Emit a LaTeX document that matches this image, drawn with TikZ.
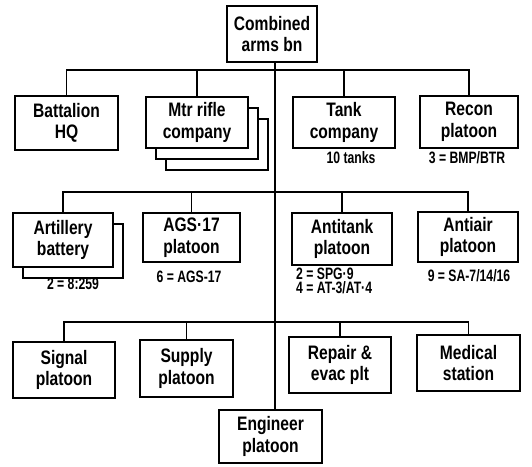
\documentclass[tikz,border=0pt]{standalone}
\usepackage{fontspec}
\newfontfamily\bx{Liberation Sans}[FakeStretch=0.8]
\newfontfamily\nx{Liberation Sans}[FakeStretch=0.74]
\usetikzlibrary{shadows}
\begin{document}
\begin{tikzpicture}[x=1pt,y=-1pt,
  unit/.style={draw, line width=1.8pt, fill=white, align=center, inner sep=0pt,
    font=\bx\bfseries\fontsize{19.5}{21.5}\selectfont},
  stack2/.style={double copy shadow={shadow xshift=10pt, shadow yshift=-11pt,
    fill=white, draw=black, line width=1.8pt}},
  stack1/.style={copy shadow={shadow xshift=10pt, shadow yshift=-11pt,
    fill=white, draw=black, line width=1.8pt}},
  note/.style={inner sep=0pt, align=left, font=\nx\bfseries\fontsize{16.5}{13.5}\selectfont},
  link/.style={line width=1.8pt}]
\useasboundingbox (0,0) rectangle (532,466);
% top
\node[unit, minimum width=90pt, minimum height=56pt] (cab) at (272,34) {Combined\\arms bn};
% row 1
\node[unit, minimum width=103pt, minimum height=54pt] (hq) at (66.5,123) {Battalion\\HQ};
\node[unit, stack2, minimum width=102pt, minimum height=51pt] (mrc) at (197,122.5) {Mtr rifle\\company};
\node[unit, minimum width=102pt, minimum height=51pt] (tank) at (344,122.5) {Tank\\company};
\node[unit, minimum width=98pt, minimum height=52pt] (recon) at (469,122) {Recon\\platoon};
% row 2
\node[unit, stack1, minimum width=100pt, minimum height=54pt] (art) at (63,240) {Artillery\\battery};
\node[unit, minimum width=97pt, minimum height=49pt] (ags) at (191.5,237.5) {AGS·17\\platoon};
\node[unit, minimum width=100pt, minimum height=52pt] (at) at (342,239) {Antitank\\platoon};
\node[unit, minimum width=100pt, minimum height=50pt] (aa) at (468,237) {Antiair\\platoon};
% row 3
\node[unit, minimum width=102pt, minimum height=56pt] (sig) at (64,370) {Signal\\platoon};
\node[unit, minimum width=93pt, minimum height=57pt] (sup) at (186.5,368.5) {Supply\\platoon};
\node[unit, minimum width=102pt, minimum height=56pt] (rep) at (340,365) {Repair \&\\evac plt};
\node[unit, minimum width=103pt, minimum height=56pt] (med) at (468.5,363) {Medical\\station};
% bottom
\node[unit, minimum width=103pt, minimum height=53pt] (eng) at (270.5,436.5) {Engineer\\platoon};
% notes
\node[note] (n1) at (351,158) {10 tanks};
\node[note] (n2) at (467,158) {3 = BMP/BTR};
\node[note] (n3) at (73,284) {2 = 8:259};
\node[note] (n4) at (189,277) {6 = AGS-17};
\node[note, anchor=north west] (n5) at (296,268) {2 = SPG·9\\4 = AT-3/AT·4};
\node[note] (n7) at (469,276) {9 = SA-7/14/16};
% connectors
\coordinate (j1) at (275,70);
\coordinate (j2) at (275,192);
\coordinate (j3) at (275,322);
\draw[link] (cab.south -| j1) -- (eng.north -| j1);
\draw[link] (hq.north) |- (j1) -| (recon.north);
\draw[link] (mrc.north) -- (mrc.north |- j1);
\draw[link] (tank.north) -- (tank.north |- j1);
\draw[link] (art.north) |- (j2) -| (aa.north);
\draw[link] (ags.north) -- (ags.north |- j2);
\draw[link] (at.north) -- (at.north |- j2);
\draw[link] (sig.north) |- (j3) -| (med.north);
\draw[link] (sup.north) -- (sup.north |- j3);
\draw[link] (rep.north) -- (rep.north |- j3);
\end{tikzpicture}
\end{document}
